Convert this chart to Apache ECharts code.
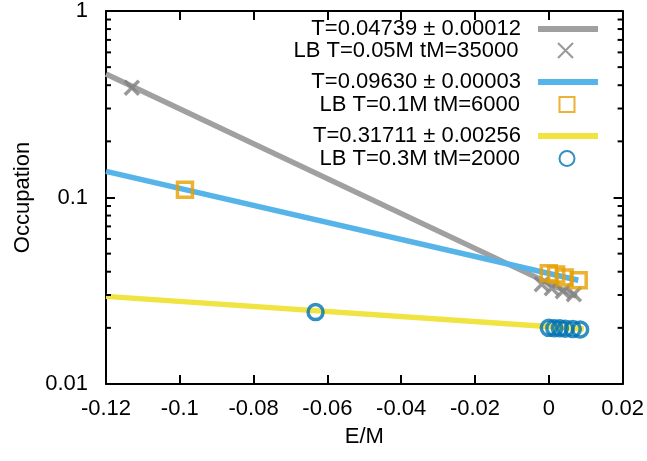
<!DOCTYPE html>
<html>
<head>
<meta charset="utf-8">
<script src="https://cdn.jsdelivr.net/npm/echarts@6/dist/echarts.min.js"></script>
<style>
html,body{margin:0;padding:0;background:#fff;}
#chart{width:647px;height:461px;}
</style>
</head>
<body>
<div id="chart"></div>
<script>
// ---- data ----
const legendNames = [
  'T=0.04739 \u00b1 0.00012',
  'LB T=0.05M tM=35000',
  'T=0.09630 \u00b1 0.00003',
  'LB T=0.1M tM=6000',
  'T=0.31711 \u00b1 0.00256',
  'LB T=0.3M tM=2000'
];
// fit lines (straight on the log axis: two end points each)
const fitGrayX = [-0.12, 0.0075];
const fitGrayY = [0.46, 0.0295];
const fitBlueX = [-0.12, 0.008];
const fitBlueY = [0.138, 0.036];
const fitYellowX = [-0.12, 0.0095];
const fitYellowY = [0.0295, 0.0197];
// simulation points
const lb005X = [-0.113, -0.0019, 0.0008, 0.0038, 0.0068];
const lb005Y = [0.388, 0.0343, 0.0326, 0.0314, 0.0303];
const lb01X = [-0.0986, 0.0, 0.002, 0.0043, 0.0081];
const lb01Y = [0.110, 0.0392, 0.0387, 0.0373, 0.0360];
const lb03X = [-0.0632, 0.0, 0.0015, 0.003, 0.0045, 0.0065, 0.0085];
const lb03Y = [0.0243, 0.0200, 0.0199, 0.0199, 0.0198, 0.0197, 0.0196];
// axes
const xMin = -0.12, xMax = 0.02, xStep = 0.02;
const yMin = 0.01, yMax = 1;
const yMinorTicks = [0.02,0.03,0.04,0.05,0.06,0.07,0.08,0.09,0.2,0.3,0.4,0.5,0.6,0.7,0.8,0.9];

const zip = (xs, ys) => xs.map((x, i) => [x, ys[i]]);
const FONT = '"Liberation Sans", Arial, sans-serif';
const FS = 22;
const colGrayLine = '#a0a0a0', colGrayPt = '#808080';
const colBlueLine = '#56b4e9', colOrange = '#e69f00';
const colYellow = '#f0e442', colDarkBlue = '#0072b2';
const xPath = 'path://M0,0L10,10M10,0L0,10';
const sqPath = 'path://M0,0L10,0L10,10L0,10Z';

const chart = echarts.init(document.getElementById('chart'), null, {renderer: 'canvas'});

const axisCommon = {
  axisLine: {show: true, onZero: false, lineStyle: {color: '#000', width: 2}},
  axisTick: {show: true, inside: true, length: 9, lineStyle: {color: '#000', width: 2}},
  splitLine: {show: false},
  minorTick: {show: false}
};

const legendRowY = [21, 47, 74, 101, 128, 155];
const isLineItem = [true, false, true, false, true, false];
const legendIcon = ['rect', xPath, 'rect', sqPath, 'rect', 'circle'];
const legends = legendNames.map((n, i) => {
  const line = isLineItem[i];
  const h = line ? 6 : 15;
  return {
    show: true,
    right: line ? 49 : 71.5,
    top: legendRowY[i] - h / 2,
    padding: 0,
    orient: 'vertical',
    align: 'right',
    selectedMode: false,
    itemWidth: line ? 60 : 15,
    itemHeight: h,
    data: [{name: n, icon: legendIcon[i]}],
    textStyle: {fontFamily: FONT, fontSize: FS, color: '#000', padding: [0, line ? 12 : 34.5, 0, 0]}
  };
});

const option = {
  animation: false,
  backgroundColor: '#fff',
  textStyle: {fontFamily: FONT},
  grid: {left: 106, right: 24, top: 10, bottom: 77, containLabel: false},
  legend: legends,
  xAxis: [
    Object.assign({}, axisCommon, {
      type: 'value', min: xMin, max: xMax, interval: xStep, position: 'bottom',
      name: 'E/M', nameLocation: 'middle', nameGap: 42,
      nameTextStyle: {fontFamily: FONT, fontSize: FS, color: '#000'},
      axisLabel: {show: true, margin: 14, fontFamily: FONT, fontSize: FS, color: '#000'}
    }),
    Object.assign({}, axisCommon, {
      type: 'value', min: xMin, max: xMax, interval: xStep, position: 'top',
      axisLabel: {show: false}
    })
  ],
  yAxis: [
    Object.assign({}, axisCommon, {
      type: 'log', logBase: 10, min: yMin, max: yMax, position: 'left',
      name: 'Occupation', nameLocation: 'middle', nameGap: 56, nameRotate: 90,
      nameTextStyle: {fontFamily: FONT, fontSize: FS, color: '#000'},
      axisLabel: {show: true, margin: 18, fontFamily: FONT, fontSize: FS, color: '#000',
        formatter: v => String(+v.toPrecision(3))}
    }),
    Object.assign({}, axisCommon, {
      type: 'log', logBase: 10, min: yMin, max: yMax, position: 'right',
      axisLabel: {show: false}
    })
  ],
  series: [
    {
      name: legendNames[0], type: 'line', data: zip(fitGrayX, fitGrayY),
      color: colGrayLine, showSymbol: false, symbol: 'none',
      lineStyle: {color: colGrayLine, width: 5.5}, z: 2
    },
    {
      name: legendNames[1], type: 'scatter', data: zip(lb005X, lb005Y),
      symbol: xPath, symbolSize: 14, color: colGrayPt,
      itemStyle: {color: 'none', borderColor: colGrayPt, borderWidth: 3.5}, z: 3
    },
    {
      name: legendNames[2], type: 'line', data: zip(fitBlueX, fitBlueY),
      color: colBlueLine, showSymbol: false, symbol: 'none',
      lineStyle: {color: colBlueLine, width: 5.5}, z: 4
    },
    {
      name: legendNames[3], type: 'scatter', data: zip(lb01X, lb01Y),
      symbol: sqPath, symbolSize: 15, color: colOrange,
      itemStyle: {color: 'rgba(0,0,0,0)', borderColor: colOrange, borderWidth: 3.5}, z: 5
    },
    {
      name: legendNames[4], type: 'line', data: zip(fitYellowX, fitYellowY),
      color: colYellow, showSymbol: false, symbol: 'none',
      lineStyle: {color: colYellow, width: 5.5}, z: 6
    },
    {
      name: legendNames[5], type: 'scatter', data: zip(lb03X, lb03Y),
      symbol: 'circle', symbolSize: 15, color: colDarkBlue,
      itemStyle: {color: 'rgba(0,0,0,0)', borderColor: colDarkBlue, borderWidth: 3.5}, z: 7
    },
    {
      // minor ticks of the log axis on both sides (log-spaced)
      name: 'minorTicks', type: 'custom', silent: true, clip: false, z: 10,
      data: yMinorTicks.map(v => [xMin, v]),
      renderItem: function (params, api) {
        const v = api.value(1);
        const pl = api.coord([xMin, v]);
        const pr = api.coord([xMax, v]);
        return {
          type: 'group',
          children: [
            {type: 'line', shape: {x1: pl[0], y1: pl[1], x2: pl[0] + 5, y2: pl[1]}, style: {stroke: '#000', lineWidth: 2}},
            {type: 'line', shape: {x1: pr[0], y1: pr[1], x2: pr[0] - 5, y2: pr[1]}, style: {stroke: '#000', lineWidth: 2}}
          ]
        };
      }
    }
  ]
};
chart.setOption(option);
</script>
</body>
</html>
